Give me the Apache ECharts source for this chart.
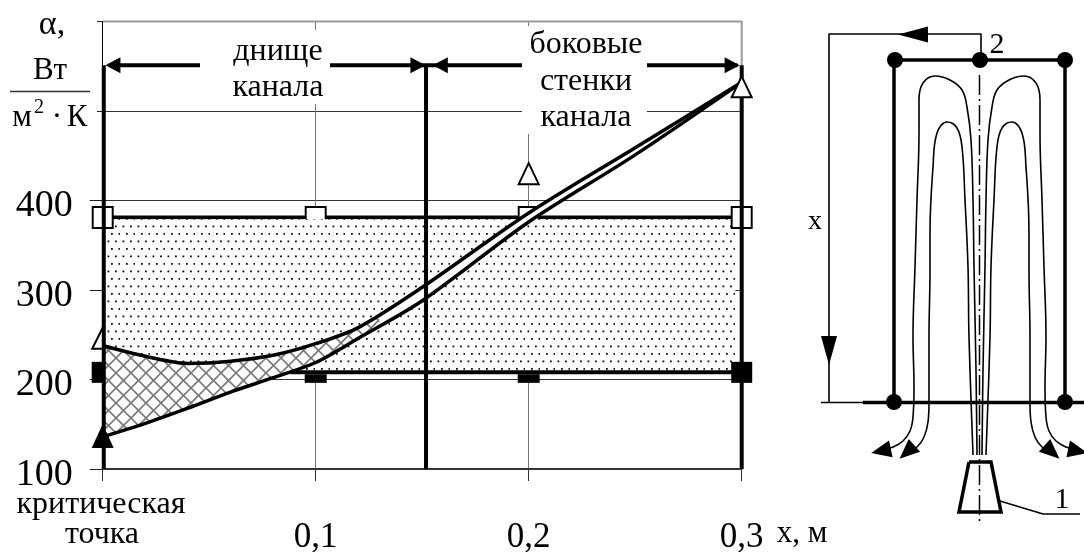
<!DOCTYPE html>
<html><head><meta charset="utf-8">
<style>html,body{margin:0;padding:0;background:#fff}#c{width:1084px;height:552px}</style>
<script src="https://cdn.jsdelivr.net/npm/echarts@6/dist/echarts.min.js"></script>
</head><body><div id="c"></div>
<script>
// ---- chart data (x in m, alpha in W/m2K) ----
const xTicks = [0, 0.1, 0.2, 0.3];
const upperCurve = [[0,238],[0.02,226],[0.04,218],[0.06,220.5],[0.08,227],[0.1,240],[0.12,258],[0.15,303],[0.2,386],[0.25,459],[0.3,532]];
const lowerCurve = [[0,136],[0.02,151],[0.04,168],[0.06,186],[0.08,202],[0.1,219],[0.12,246],[0.15,288],[0.2,376],[0.25,451],[0.3,532]];
const levelTop = [[0,381],[0.3,381]];
const levelBottom = [[0.088,208],[0.3,208]];
const openSquaresEnds = [[0,381],[0.3,381]];
const openSquaresMid = [[0.1,381],[0.2,381]];
const filledSquaresUnder = [[0,208],[0.1,208],[0.2,208]];
const filledSquareEnd = [[0.3,208]];
const openTrianglesEdge = [[0,246]];
const openTriangles = [[0.2,430],[0.3,527]];
const filledTriangles = [[0,137]];
const dottedRegion = [[0,379],[0.297,379],[0.297,206],[0,206]];
const hatchRegion = [[0,238],[0.02,226],[0.04,218],[0.06,220.5],[0.08,227],[0.1,240],[0.12,258],[0.13,272],[0.13,258],[0.12,246],[0.1,219],[0.08,202],[0.06,186],[0.04,168],[0.02,151],[0,136]];
const whiteStrip = [[0.13,272],[0.15,303],[0.2,386],[0.25,459],[0.3,532],[0.25,451],[0.2,376],[0.15,288],[0.13,258]];
const zoneLines = [[[0.0005,100],[0.0005,551]],[[0.1518,100],[0.1518,551]],[[0.3,100],[0.3,551]]];
const zoneArrowLines = [[[0.004,551],[0.298,551]]];
const zoneArrowLeft = [[0.0048,551],[0.1585,551]];
const zoneArrowRight = [[0.148,551],[0.2955,551]];
const yLabels = {100:'100',200:'200',300:'300',400:'400'};
const xLabels = {0.1:'0,1',0.2:'0,2',0.3:'0,3'};

// ---- schematic data (second grid, its axes run in screen-sized units) ----
const frameLine = [[981,60],[981,34],[829,34],[829,403]];
const baseThin = [[821,402.5],[863,402.5]];
const baseThick = [[863,402.5],[1084,402.5]];
const topBar = [[895,60],[1065,60]];
const wallLeft = [[894,60],[894,402]];
const wallRight = [[1065,60],[1065,402]];
const joints = [[895,60],[980,60],[1065,60],[894,402],[1065,402]];
const centerLine = [[979.5,75],[979.5,522]];
const outerLeft = [[880,451],[893,447],[903,441],[910,431],[913,417],[914,387],[913,337],[915,267],[917,200],[919,133],[919,100],[923,83],[935,76],[950,80],[962,90],[967,107],[971,140],[973,200],[974,267],[976,370],[977,455]];
const innerLeft = [[907,452],[917,447],[924,437],[928,422],[929,403],[929,337],[930,270],[930,233],[933,167],[937,133],[947,122],[957,128],[962,147],[965,200],[968,267],[969,337],[973,455]];
const outerRight = [[1079,451],[1066,447],[1056,441],[1049,431],[1046,417],[1045,387],[1046,337],[1044,267],[1042,200],[1040,133],[1040,100],[1036,83],[1024,76],[1009,80],[997,90],[992,107],[988,140],[986,200],[985,267],[983,370],[982,455]];
const innerRight = [[1052,452],[1042,447],[1035,437],[1031,422],[1030,403],[1030,337],[1029,270],[1029,233],[1026,167],[1022,133],[1012,122],[1002,128],[997,147],[994,200],[991,267],[990,337],[986,455]];
const nozzle = [[969,462],[991,462],[1001,512],[959,512],[969,462]];
const leader = [[1000,501],[1043,514],[1080,514]];
const arrowTop = [[913,34.5]];
const arrowDown = [[829,350.5]];
const flowArrows = [[881,451,102],[907,452,132],[1052,452,-132],[1078,451,-102]];

function pattern(draw){
  const c=document.createElement('canvas');c.width=15;c.height=15;
  const g=c.getContext('2d');g.fillStyle='#fff';g.fillRect(0,0,15,15);draw(g);
  return {image:c,repeat:'repeat'};
}
const dots = pattern(g=>{g.fillStyle='#111';
  [[2.5,0.5],[10,0.5],[6,8],[13.5,8]].forEach(p=>g.fillRect(p[0],p[1],1.8,1.8));});
const hatch = pattern(g=>{g.strokeStyle='#7a7a7a';g.lineWidth=1.6;
  g.translate(3.5,5.5);
  for(let k=-30;k<=30;k+=15){
    g.beginPath();g.moveTo(k-15,-15);g.lineTo(k+30,30);g.stroke();
    g.beginPath();g.moveTo(k+30,-15);g.lineTo(k-15,30);g.stroke();
  }});

const poly=(pts,fill,z)=>({type:'custom',xAxisIndex:0,yAxisIndex:0,z,clip:false,silent:true,data:pts,encode:{x:0,y:1},
  renderItem:(p,api)=>p.dataIndex===0?{type:'polygon',shape:{points:pts.map(q=>api.coord(q))},style:{fill}}:null});
const line=(data,width,z,extra,g)=>Object.assign({type:'line',xAxisIndex:g||0,yAxisIndex:g||0,data,showSymbol:false,symbol:'none',silent:true,animation:false,z,
  lineStyle:{color:'#000',width,cap:'butt',join:'round'}},extra||{});
const mark=(data,symbol,size,color,border,z,extra,g)=>Object.assign({type:'scatter',xAxisIndex:g||0,yAxisIndex:g||0,data,symbol,symbolSize:size,silent:true,z,
  itemStyle:{color,borderColor:'#000',borderWidth:border,opacity:1}},extra||{});

const serif='"Liberation Serif","Times New Roman",serif';
const txt=(x,y,text,size,extra)=>Object.assign({type:'text',x,y,z:20,silent:true,
  style:{text,font:size+'px '+serif,fill:'#000',textAlign:'center',textVerticalAlign:'middle'}},extra||{});

const chart=echarts.init(document.getElementById('c'),null,{renderer:'canvas'});
const series=[
  mark(openTrianglesEdge,'triangle',[21,21],'#fff',2,1),
  mark(filledSquaresUnder,'rect',[22,21],'#000',0,1),
  line(levelTop,4,1),
  mark(openSquaresMid,'rect',[20,21],'#fff',2,1),
  poly(dottedRegion,dots,2),
  poly(hatchRegion,hatch,2),
  poly(whiteStrip,'#fff',2),
  line(levelBottom,4,3),
  line(upperCurve,3.5,4,{smooth:0.3}),
  line(lowerCurve,3.5,4,{smooth:0.3}),
  mark(openSquaresEnds,'rect',[20,21],'#fff',2,4),
  ...zoneLines.map(d=>line(d,4,5)),
  ...zoneArrowLines.map(d=>line(d,4,5)),
  mark(zoneArrowLeft,'triangle',[16,15],'#000',0,6,{symbolRotate:90}),
  mark(zoneArrowRight,'triangle',[16,15],'#000',0,6,{symbolRotate:-90}),
  mark(filledSquareEnd,'rect',[21,21],'#000',0,7),
  mark(openTriangles,'triangle',[20,21],'#fff',2,7),
  mark(filledTriangles,'triangle',[22,24],'#000',0,7),
  // schematic
  line(frameLine,1.6,3,null,1),
  line(baseThin,1.6,3,null,1),
  line(baseThick,3.5,3,null,1),
  line(topBar,3.5,3,null,1),
  line(wallLeft,3.5,3,null,1),
  line(wallRight,3.5,3,null,1),
  line(centerLine,1.5,3,{lineStyle:{color:'#000',width:1.5,type:[20,4,2,4]}},1),
  line(outerLeft,1.6,3,{smooth:0.4},1),
  line(innerLeft,1.6,3,{smooth:0.4},1),
  line(outerRight,1.6,3,{smooth:0.4},1),
  line(innerRight,1.6,3,{smooth:0.4},1),
  line(nozzle,3.5,3,{lineStyle:{color:'#000',width:3.5,join:'miter'}},1),
  line(leader,1.6,3,null,1),
  mark(joints,'circle',16,'#000',0,4,null,1),
  mark(arrowTop,'triangle',[16,30],'#000',0,4,{symbolRotate:90},1),
  mark(arrowDown,'triangle',[16,29],'#000',0,4,{symbolRotate:180},1),
  ...flowArrows.map(a=>mark([[a[0],a[1]]],'triangle',[17,20],'#000',0,4,{symbolRotate:a[2]},1))
];

chart.setOption({
  animation:false,
  backgroundColor:'#fff',
  grid:[{left:102.7,top:21.5,width:639,height:447.5,outerBoundsMode:'none'},{left:780,top:0,width:304,height:552,outerBoundsMode:'none'}],
  xAxis:[
    {type:'value',min:0,max:0.3,interval:0.1,
      axisLine:{show:true,onZero:false,lineStyle:{color:'#333',width:2}},
      axisTick:{show:true,length:12,lineStyle:{color:'#333',width:1}},
      splitLine:{show:true,lineStyle:{color:'#777',width:1}},
      axisLabel:{margin:51,fontFamily:serif,fontSize:35,color:'#000',hideOverlap:false,
        formatter:v=>xLabels[+v.toFixed(1)]||''}},
    {type:'value',gridIndex:1,min:780,max:1084,show:false}
  ],
  yAxis:[
    {type:'value',min:100,max:600,interval:100,
      axisLine:{show:true,onZero:false,lineStyle:{color:'#000',width:1}},
      axisTick:{show:true,length:13,lineStyle:{color:'#222',width:1}},
      splitLine:{show:true,lineStyle:{color:'#333',width:1}},
      axisLabel:{margin:30,fontFamily:serif,fontSize:38,color:'#000',verticalAlign:'top',lineHeight:12,
        formatter:v=>yLabels[v]||''}},
    {type:'value',gridIndex:1,min:0,max:552,inverse:true,show:false}
  ],
  series,
  graphic:{elements:[
    {type:'line',z:1,silent:true,shape:{x1:103,y1:21.5,x2:742,y2:21.5},style:{stroke:'#999',lineWidth:2}},
    {type:'line',z:1,silent:true,shape:{x1:741.7,y1:21,x2:741.7,y2:65},style:{stroke:'#999',lineWidth:2}},
    {type:'rect',z:10,silent:true,shape:{x:88,y:100,width:9,height:20},style:{fill:'#fff'}},
    {type:'rect',z:10,silent:true,shape:{x:88,y:12,width:9,height:20},style:{fill:'#fff'}},
    {type:'rect',z:10,silent:true,shape:{x:200,y:30,width:130,height:74},style:{fill:'#fff'}},
    {type:'rect',z:10,silent:true,shape:{x:522,y:26,width:125,height:108},style:{fill:'#fff'}},
    txt(278,52,'днище',32), txt(278,88,'канала',32),
    txt(586,45,'боковые',32), txt(586,82,'стенки',32), txt(586,118,'канала',32),
    txt(52,25,'α,',34), txt(50,71,'Вт',31),
    {type:'line',z:20,silent:true,shape:{x1:10,y1:91.5,x2:90,y2:91.5},style:{stroke:'#333',lineWidth:1.5}},
    txt(22,118,'м',31), txt(39,108,'2',20), txt(57,118,'·',31), txt(77,118,'К',31),
    txt(101,505,'критическая',32), txt(102,535,'точка',32),
    txt(802,534,'x, м',31),
    txt(815,222,'x',28), txt(997,45,'2',30), txt(1062,500,'1',30)
  ]}
});
</script></body></html>
